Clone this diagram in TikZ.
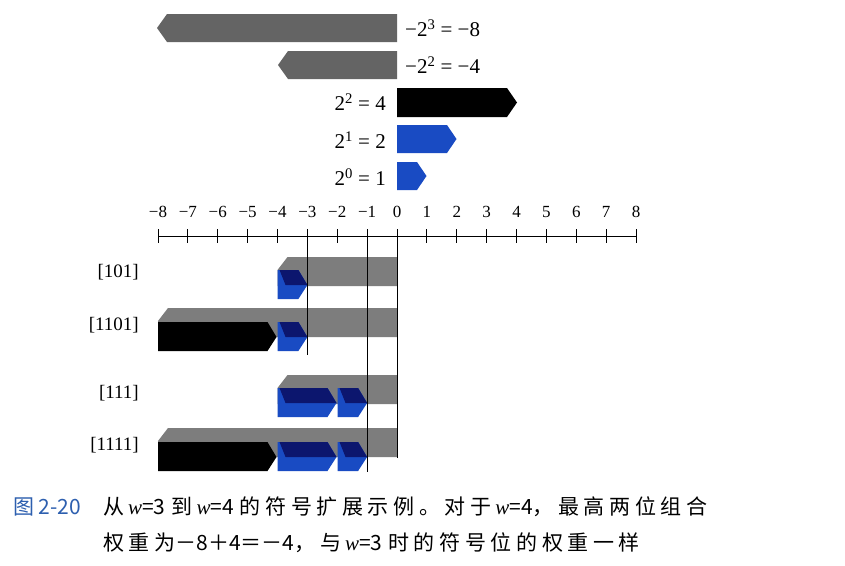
\documentclass[tikz,border=0pt]{standalone}
\usepackage{fontspec}
\setmainfont{Liberation Serif}
\newfontfamily\cjk{Noto Sans CJK SC}
\newfontfamily\cjkls[LetterSpace=22]{Noto Sans CJK SC}
\newfontfamily\wfont{Liberation Serif}
\definecolor{barblue}{RGB}{25,75,195}
\definecolor{darkblue}{RGB}{12,22,110}
\definecolor{graybar}{RGB}{125,125,125}
\definecolor{topgray}{RGB}{100,100,100}
\definecolor{capblue}{RGB}{45,95,175}
\newcommand\wv{{\wfont\itshape w}}
\newcommand\zh[1]{{\cjkls #1}}
\newcommand\myblue[3]{% a b y1
  \fill[barblue] (#1,#3) -- ({#2-9},#3) -- (#2,{#3+15}) -- ({#2-9},{#3+29}) -- (#1,{#3+29}) -- cycle;
  \fill[darkblue] ({#1+2},#3) -- ({#2-9},#3) -- (#2,{#3+15}) -- ({#1+8},{#3+15}) -- cycle;
}
\newcommand\myblack[3]{% a b y1
  \fill[black] (#1,#3) -- ({#2-9},#3) -- (#2,{#3+15}) -- ({#2-9},{#3+29}) -- (#1,{#3+29}) -- cycle;
}
\newcommand\mygray[2]{% xL yt
  \fill[graybar] ({#1+10},#2) -- (397,#2) -- (397,{#2+29}) -- (#1,{#2+29}) -- (#1,{#2+13}) -- cycle;
}
\begin{document}
\begin{tikzpicture}[x=1pt,y=-1pt,
  lab/.style={font=\fontsize{21}{24}\selectfont, inner sep=0pt},
  ticklab/.style={font=\fontsize{17}{20}\selectfont, inner sep=0pt},
  rowlab/.style={font=\fontsize{19}{22}\selectfont, inner sep=0pt, anchor=east},
  captext/.style={font=\fontsize{21}{24}\selectfont\cjk, inner sep=0pt, anchor=west}]
\useasboundingbox[fill=white] (0,0) rectangle (845,565);

% weight bars at the top
\fill[topgray] (157,28) -- (167,14) -- (397,14) -- (397,42) -- (167,42) -- cycle;
\node[lab, anchor=west] (w8) at (405,28) {−2\textsuperscript{3} = −8};
\fill[topgray] (278,65) -- (288,51) -- (397,51) -- (397,79) -- (288,79) -- cycle;
\node[lab, anchor=west] (w4n) at (405,65) {−2\textsuperscript{2} = −4};
\fill[black] (397,88) -- (507,88) -- (517,102.5) -- (507,117) -- (397,117) -- cycle;
\node[lab, anchor=east] (w4) at (386,102) {2\textsuperscript{2} = 4};
\fill[barblue] (397,125) -- (447,125) -- (456.5,139) -- (447,153) -- (397,153) -- cycle;
\node[lab, anchor=east] (w2) at (386,140) {2\textsuperscript{1} = 2};
\fill[barblue] (397,162) -- (417,162) -- (426.5,176) -- (417,190) -- (397,190) -- cycle;
\node[lab, anchor=east] (w1) at (386,177) {2\textsuperscript{0} = 1};

% axis
\coordinate (axL) at (158,236);
\coordinate (axR) at (636,236);
\draw[line width=0.8pt] (axL) -- (axR);
\foreach \v in {-8,...,8} {
  \draw[line width=0.8pt] ({397+29.875*\v},229) -- ({397+29.875*\v},243);
  \node[ticklab] (t\v) at ({397+29.875*\v},212) {\ifnum\v<0 −\the\numexpr-\v\relax\else\v\fi};
}

% rows
\mygray{277.5}{257}
\myblue{277.5}{307.4}{270}
\node[rowlab] (r101) at (139,272) {[101]};

\mygray{158}{308}
\myblack{158}{276.5}{322}
\myblue{277.5}{307.4}{322}
\node[rowlab] (r1101) at (139,325) {[1101]};

\mygray{277.5}{375}
\myblue{277.5}{336.5}{388}
\myblue{337.5}{367.1}{388}
\node[rowlab] (r111) at (139,393) {[111]};

\mygray{158}{428}
\myblack{158}{276.5}{442}
\myblue{277.5}{336.5}{442}
\myblue{337.5}{367.1}{442}
\node[rowlab] (r1111) at (139,445) {[1111]};

% result lines
\coordinate (m3) at (307.4,355);
\coordinate (m1) at (367.1,472);
\coordinate (z0) at (397,458);
\draw[line width=0.8pt] (307.4,236) -- (m3);
\draw[line width=0.8pt] (367.1,236) -- (m1);
\draw[line width=0.8pt] (397,236) -- (z0);

% caption
\node[captext, text=capblue] (fig) at (13,507) {图 2-20};
\node[captext] (cap1) at (103,507) {\zh{从}\hspace{4pt}\wv=3\hspace{6pt}\zh{到}\hspace{4pt}\wv=4\hspace{6pt}\zh{的符号扩展示例。对于}\hspace{4pt}\wv=4\zh{，最高两位组合}};
\node[captext] (cap2) at (103,543) {\zh{权重为}－8＋4＝－4\zh{，与}\hspace{4pt}\wv=3\hspace{6pt}\zh{时的符号位的权重一样}};
\end{tikzpicture}
\end{document}
